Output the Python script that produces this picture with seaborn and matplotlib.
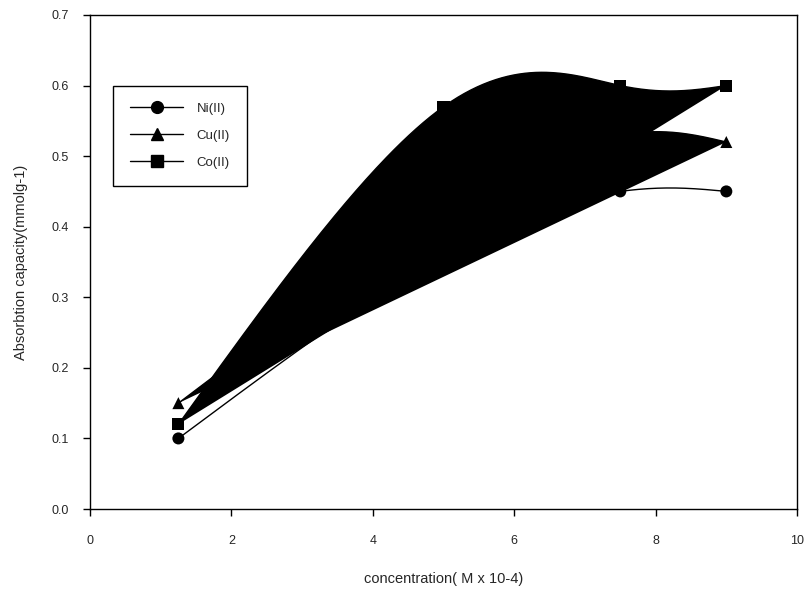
import numpy as np
import pandas as pd
import matplotlib
matplotlib.use("Agg")
import matplotlib.pyplot as plt
from matplotlib.lines import Line2D
import seaborn as sns

# data
conc = [1.25, 5.0, 7.5, 9.0]
ni = [0.10, 0.36, 0.45, 0.45]
cu = [0.15, 0.42, 0.53, 0.52]
co = [0.12, 0.57, 0.60, 0.60]
series = ["Ni(II)", "Cu(II)", "Co(II)"]
markers = ["o", "^", "s"]


def natural_coeffs(t, v):
    k = len(t)
    h = np.diff(t)
    A = np.zeros((k, k))
    b = np.zeros(k)
    A[0, 0] = A[-1, -1] = 1
    for i in range(1, k - 1):
        A[i, i - 1] = h[i - 1]
        A[i, i] = 2 * (h[i - 1] + h[i])
        A[i, i + 1] = h[i]
        b[i] = 6 * ((v[i + 1] - v[i]) / h[i] - (v[i] - v[i - 1]) / h[i - 1])
    return np.linalg.solve(A, b)


def eval_spline(t, v, M, ts):
    idx = np.clip(np.searchsorted(t, ts) - 1, 0, len(t) - 2)
    t0, t1 = t[idx], t[idx + 1]
    hh = t1 - t0
    a, c = t1 - ts, ts - t0
    return (M[idx] * a**3 + M[idx + 1] * c**3) / (6 * hh) \
        + (v[idx] / hh - M[idx] * hh / 6) * a + (v[idx + 1] / hh - M[idx + 1] * hh / 6) * c


def smooth_curve(x, y, n=300):
    # parametric natural spline over the point index, like the original's smoothed line
    x = np.asarray(x, float)
    y = np.asarray(y, float)
    t = np.arange(len(x), dtype=float)
    ts = np.linspace(0, t[-1], n)
    xs = eval_spline(t, x, natural_coeffs(t, x), ts)
    ys = eval_spline(t, y, natural_coeffs(t, y), ts)
    return xs, ys


sns.set_style("ticks")
plt.rcParams["font.family"] = ["Liberation Sans", "DejaVu Sans"]

fig = plt.figure(figsize=(8.08, 5.92), dpi=100)
ax = fig.add_axes([0.1114, 0.1402, 0.8750, 0.8345])

curves = []
for name, vals in zip(series, [ni, cu, co]):
    xs, ys = smooth_curve(conc, vals)
    curves.append(pd.DataFrame({"conc": xs, "cap": ys, "ion": name}))
    if name != "Ni(II)":
        # closed spline polygon filled black
        ax.fill(xs, ys, color="black", lw=0)
curves = pd.concat(curves)

sns.lineplot(data=curves, x="conc", y="cap", units="ion", estimator=None,
             color="black", lw=1, ax=ax, legend=False, sort=False)

pts = pd.DataFrame({"conc": conc * 3, "cap": ni + cu + co,
                    "ion": np.repeat(series, len(conc))})
sns.scatterplot(data=pts, x="conc", y="cap", style="ion", markers=dict(zip(series, markers)),
                color="black", s=75, edgecolor="black", linewidth=0, ax=ax, legend=False, zorder=5)

ax.set_xlim(0, 10)
ax.set_ylim(0, 0.7)
ax.set_xticks(np.arange(0, 11, 2))
ax.set_yticks(np.arange(0, 0.71, 0.1))
ax.set_yticklabels([f"{v:.1f}" for v in np.arange(0, 0.71, 0.1)])
for s in ax.spines.values():
    s.set_visible(True)
    s.set_linewidth(1)
    s.set_color("black")
ax.tick_params(direction="out", length=5, width=1, color="black", labelsize=9, pad=14)
ax.tick_params(axis="y", pad=10)

ax.set_xlabel("concentration( M x 10-4)", fontsize=10.5, labelpad=18)
ax.set_ylabel("Absorbtion capacity(mmolg-1)", fontsize=10.5, labelpad=17)

handles = [Line2D([0], [0], color="black", lw=1, marker=m, markersize=8.5, label=n)
           for n, m in zip(series, markers)]
leg = ax.legend(handles=handles, loc="upper left", bbox_to_anchor=(0.033, 0.857),
                frameon=True, fancybox=False, edgecolor="black", framealpha=1,
                fontsize=9.5, handlelength=4.0, labelspacing=1.1, borderpad=1.3,
                handletextpad=1.0, borderaxespad=0)
leg.get_frame().set_linewidth(1)

fig.savefig("out.png", dpi=100)
